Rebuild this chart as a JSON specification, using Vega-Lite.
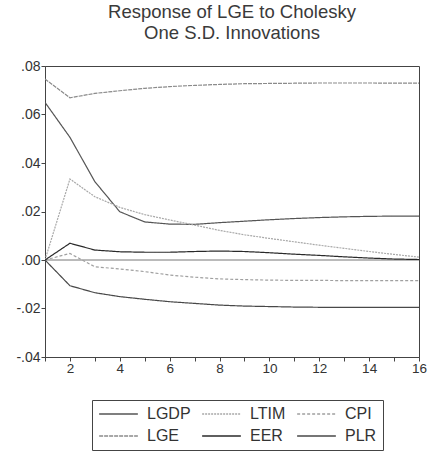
{
  "$schema": "https://vega.github.io/schema/vega-lite/v6.json",
  "autosize": "none",
  "padding": {"left": 45, "top": 66, "right": 9, "bottom": 97},
  "width": 374,
  "height": 291,
  "background": "white",
  "title": {
    "text": ["Response of LGE to Cholesky", "One S.D. Innovations"],
    "font": "Liberation Sans",
    "fontSize": 18.5,
    "fontWeight": "normal",
    "color": "#3a3a3a",
    "lineHeight": 21,
    "offset": 17,
    "anchor": "middle"
  },
  "datasets": {
    "irf": [
      {"t": 1, "series": "LGDP", "v": 0.0650}, {"t": 2, "series": "LGDP", "v": 0.0506}, {"t": 3, "series": "LGDP", "v": 0.0323}, {"t": 4, "series": "LGDP", "v": 0.0199},
      {"t": 5, "series": "LGDP", "v": 0.0157}, {"t": 6, "series": "LGDP", "v": 0.0148}, {"t": 7, "series": "LGDP", "v": 0.0147}, {"t": 8, "series": "LGDP", "v": 0.0154},
      {"t": 9, "series": "LGDP", "v": 0.0160}, {"t": 10, "series": "LGDP", "v": 0.0166}, {"t": 11, "series": "LGDP", "v": 0.0171}, {"t": 12, "series": "LGDP", "v": 0.0175},
      {"t": 13, "series": "LGDP", "v": 0.0178}, {"t": 14, "series": "LGDP", "v": 0.0180}, {"t": 15, "series": "LGDP", "v": 0.0181}, {"t": 16, "series": "LGDP", "v": 0.0181},

      {"t": 1, "series": "LTIM", "v": 0.0}, {"t": 2, "series": "LTIM", "v": 0.0334}, {"t": 3, "series": "LTIM", "v": 0.0261}, {"t": 4, "series": "LTIM", "v": 0.0217},
      {"t": 5, "series": "LTIM", "v": 0.0187}, {"t": 6, "series": "LTIM", "v": 0.0165}, {"t": 7, "series": "LTIM", "v": 0.0144}, {"t": 8, "series": "LTIM", "v": 0.0122},
      {"t": 9, "series": "LTIM", "v": 0.0104}, {"t": 10, "series": "LTIM", "v": 0.0089}, {"t": 11, "series": "LTIM", "v": 0.0075}, {"t": 12, "series": "LTIM", "v": 0.0061},
      {"t": 13, "series": "LTIM", "v": 0.0048}, {"t": 14, "series": "LTIM", "v": 0.0035}, {"t": 15, "series": "LTIM", "v": 0.0023}, {"t": 16, "series": "LTIM", "v": 0.0012},

      {"t": 1, "series": "CPI", "v": 0.0}, {"t": 2, "series": "CPI", "v": 0.0027}, {"t": 3, "series": "CPI", "v": -0.0028}, {"t": 4, "series": "CPI", "v": -0.0037},
      {"t": 5, "series": "CPI", "v": -0.0048}, {"t": 6, "series": "CPI", "v": -0.0062}, {"t": 7, "series": "CPI", "v": -0.0071}, {"t": 8, "series": "CPI", "v": -0.0078},
      {"t": 9, "series": "CPI", "v": -0.0081}, {"t": 10, "series": "CPI", "v": -0.0083}, {"t": 11, "series": "CPI", "v": -0.0084}, {"t": 12, "series": "CPI", "v": -0.0084},
      {"t": 13, "series": "CPI", "v": -0.0085}, {"t": 14, "series": "CPI", "v": -0.0085}, {"t": 15, "series": "CPI", "v": -0.0085}, {"t": 16, "series": "CPI", "v": -0.0085},

      {"t": 1, "series": "LGE", "v": 0.0746}, {"t": 2, "series": "LGE", "v": 0.0669}, {"t": 3, "series": "LGE", "v": 0.0687}, {"t": 4, "series": "LGE", "v": 0.0698},
      {"t": 5, "series": "LGE", "v": 0.0708}, {"t": 6, "series": "LGE", "v": 0.0715}, {"t": 7, "series": "LGE", "v": 0.0720}, {"t": 8, "series": "LGE", "v": 0.0724},
      {"t": 9, "series": "LGE", "v": 0.0727}, {"t": 10, "series": "LGE", "v": 0.0728}, {"t": 11, "series": "LGE", "v": 0.0729}, {"t": 12, "series": "LGE", "v": 0.0730},
      {"t": 13, "series": "LGE", "v": 0.0730}, {"t": 14, "series": "LGE", "v": 0.0730}, {"t": 15, "series": "LGE", "v": 0.0729}, {"t": 16, "series": "LGE", "v": 0.0729},

      {"t": 1, "series": "EER", "v": 0.0}, {"t": 2, "series": "EER", "v": 0.0069}, {"t": 3, "series": "EER", "v": 0.0041}, {"t": 4, "series": "EER", "v": 0.0034},
      {"t": 5, "series": "EER", "v": 0.0032}, {"t": 6, "series": "EER", "v": 0.0032}, {"t": 7, "series": "EER", "v": 0.0035}, {"t": 8, "series": "EER", "v": 0.0037},
      {"t": 9, "series": "EER", "v": 0.0035}, {"t": 10, "series": "EER", "v": 0.0030}, {"t": 11, "series": "EER", "v": 0.0024}, {"t": 12, "series": "EER", "v": 0.0019},
      {"t": 13, "series": "EER", "v": 0.0013}, {"t": 14, "series": "EER", "v": 0.0008}, {"t": 15, "series": "EER", "v": 0.0004}, {"t": 16, "series": "EER", "v": 0.0002},

      {"t": 1, "series": "PLR", "v": 0.0}, {"t": 2, "series": "PLR", "v": -0.0106}, {"t": 3, "series": "PLR", "v": -0.0135}, {"t": 4, "series": "PLR", "v": -0.0151},
      {"t": 5, "series": "PLR", "v": -0.0162}, {"t": 6, "series": "PLR", "v": -0.0172}, {"t": 7, "series": "PLR", "v": -0.0179}, {"t": 8, "series": "PLR", "v": -0.0186},
      {"t": 9, "series": "PLR", "v": -0.0190}, {"t": 10, "series": "PLR", "v": -0.0192}, {"t": 11, "series": "PLR", "v": -0.0194}, {"t": 12, "series": "PLR", "v": -0.0195},
      {"t": 13, "series": "PLR", "v": -0.0195}, {"t": 14, "series": "PLR", "v": -0.0195}, {"t": 15, "series": "PLR", "v": -0.0195}, {"t": 16, "series": "PLR", "v": -0.0195}
    ],
    "zero": [{"level": 0}]
  },
  "layer": [
    {
      "data": {"name": "zero"},
      "mark": {"type": "rule", "color": "#777777", "strokeWidth": 1},
      "encoding": {
        "y": {"field": "level", "type": "quantitative", "scale": {"domain": [-0.04, 0.08]}}
      }
    },
    {
      "data": {"name": "irf"},
      "mark": {"type": "line", "strokeWidth": 1.2, "clip": true},
      "encoding": {
        "x": {
          "field": "t", "type": "quantitative",
          "scale": {"domain": [1, 16], "nice": false, "zero": false},
          "axis": {
            "title": null,
            "values": [1, 2, 3, 4, 5, 6, 7, 8, 9, 10, 11, 12, 13, 14, 15, 16],
            "labelExpr": "datum.value % 2 == 0 ? datum.label : ''",
            "tickSize": 4,
            "labelPadding": 0,
            "labelFontSize": 13.5,
            "labelFlush": false
          }
        },
        "y": {
          "field": "v", "type": "quantitative",
          "scale": {"domain": [-0.04, 0.08], "nice": false},
          "axis": {
            "title": null,
            "values": [-0.04, -0.02, 0, 0.02, 0.04, 0.06, 0.08],
            "labelExpr": "replace(replace(format(datum.value, '.2f'), '\u2212', '-'), '0.', '.')",
            "tickSize": 4,
            "labelPadding": 1
          }
        },
        "color": {
          "field": "series", "type": "nominal",
          "scale": {
            "domain": ["LGDP", "LTIM", "CPI", "LGE", "EER", "PLR"],
            "range": ["#555555", "#a8a8a8", "#a0a0a0", "#8a8a8a", "#2a2a2a", "#484848"]
          },
          "legend": {
            "title": null,
            "orient": "none",
            "legendX": 47,
            "legendY": 334,
            "direction": "horizontal",
            "columns": 3,
            "symbolType": "stroke",
            "symbolSize": 1500,
            "symbolStrokeWidth": 1.3,
            "clipHeight": 16,
            "labelFont": "Liberation Sans",
            "labelFontSize": 16,
            "labelColor": "#333333",
            "labelOffset": 8,
            "columnPadding": 10,
            "rowPadding": 6,
            "padding": 6,
            "strokeColor": "#444444",
            "fillColor": "white"
          }
        },
        "strokeDash": {
          "field": "series", "type": "nominal",
          "scale": {
            "domain": ["LGDP", "LTIM", "CPI", "LGE", "EER", "PLR"],
            "range": [[1, 0], [2, 1], [3, 2], [4, 1], [1, 0], [1, 0]]
          },
          "legend": null
        }
      }
    }
  ],
  "config": {
    "view": {"stroke": "#444444", "strokeWidth": 1},
    "axis": {
      "grid": false,
      "domainColor": "#444444",
      "tickColor": "#444444",
      "labelColor": "#333333",
      "labelFont": "Liberation Sans",
      "labelFontSize": 14
    }
  }
}
